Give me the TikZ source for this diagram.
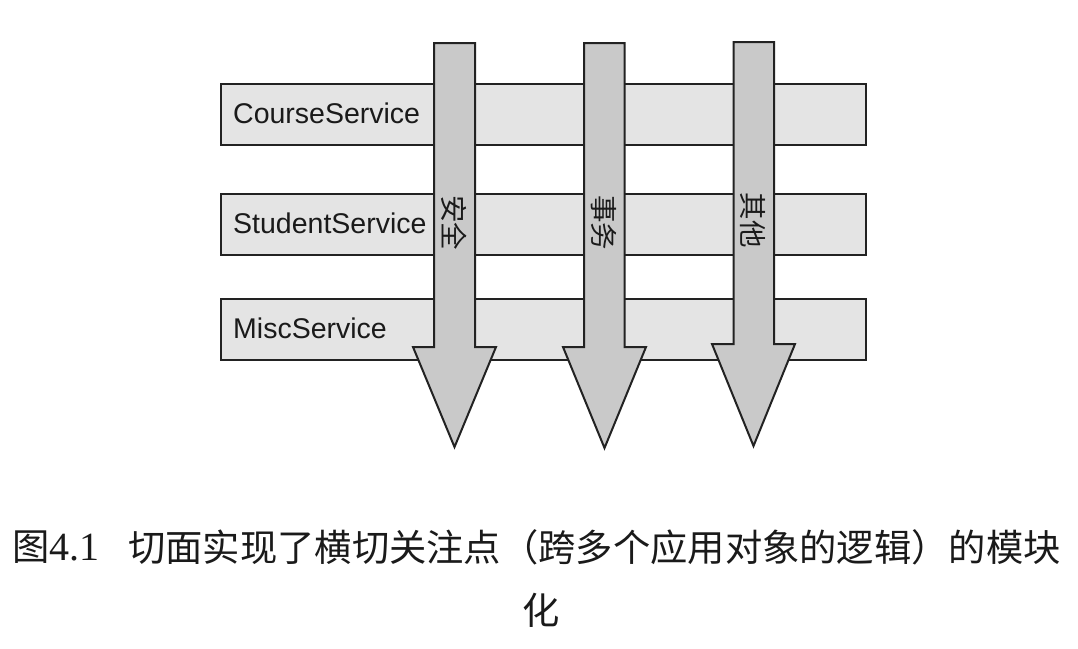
\documentclass[tikz,border=0pt]{standalone}
\usepackage{fontspec}
\setmainfont{Liberation Serif}
\setsansfont{Liberation Sans}
\newfontfamily\cjk{Noto Sans CJK SC}
\usetikzlibrary{positioning}
\definecolor{barfill}{HTML}{E4E4E4}
\definecolor{arrowfill}{HTML}{C9C9C9}
\definecolor{edge}{HTML}{222222}
\definecolor{ink}{HTML}{1A1A1A}
\tikzset{
  bar/.style={draw=edge, line width=2pt, fill=barfill, rectangle, inner sep=0pt,
    minimum width=645pt, minimum height=61pt, anchor=north west},
  svclabel/.style={font=\sffamily\fontsize{28.5}{30}\selectfont, text=ink, anchor=west, inner sep=0pt},
  bigarrow/.style={draw=edge, line width=2pt, fill=arrowfill, line join=miter},
  arrowlabel/.style={font=\cjk\fontsize{27.5}{28}\selectfont, text=ink, rotate=-90, inner sep=0pt},
  caption/.style={font=\cjk\fontsize{37.3}{40}\selectfont, text=ink, inner sep=0pt}
}
\begin{document}
\begin{tikzpicture}[x=1pt,y=-1pt]
\useasboundingbox (0,0) rectangle (1078,648);
% service bars
\node[bar] (b1) at (220,83) {};
\node[bar] (b2) at (220,193) {};
\node[bar] (b3) at (220,298) {};
\node[svclabel] (l1) at (233,113.5) {CourseService};
\node[svclabel] (l2) at (233,223) {StudentService};
\node[svclabel] (l3) at (233,328) {MiscService};
% aspect arrows
\draw[bigarrow] (434,43) -- (475,43) -- (475,347) -- (496,347) -- (454.5,447) -- (413,347) -- (434,347) -- cycle;
\draw[bigarrow] (584,43) -- (624.5,43) -- (624.5,347) -- (646,347) -- (604.5,448) -- (563,347) -- (584,347) -- cycle;
\draw[bigarrow] (733.5,42) -- (774,42) -- (774,344) -- (795,344) -- (753.5,446) -- (712,344) -- (733.5,344) -- cycle;
\node[arrowlabel] (a1) at (454,222.5) {安全};
\node[arrowlabel] (a2) at (604,222.5) {事务};
\node[arrowlabel] (a3) at (753,220) {其他};
% caption
\node[caption, anchor=west] (c0) at (12,547) {图{\rmfamily\fontsize{40}{42}\selectfont 4.1}};
\node[caption, anchor=west] (c1) at (128,547) {切面实现了横切关注点（跨多个应用对象的逻辑）的模块};
\node[caption] (c2) at (541,610) {化};
\end{tikzpicture}
\end{document}
